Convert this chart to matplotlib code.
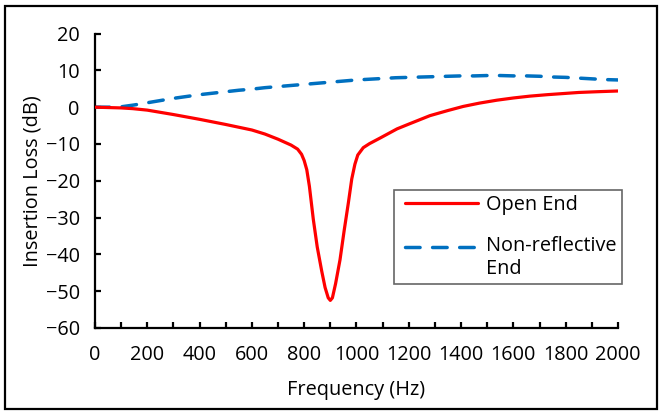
import matplotlib
matplotlib.use("Agg")
import matplotlib.pyplot as plt
import numpy as np
from matplotlib.patches import Rectangle
from matplotlib.ticker import MultipleLocator

# Data
freq_open = [0, 100, 145, 200, 275, 300, 400, 500, 600, 650, 700, 750, 775, 790, 800,
             810, 820, 835, 850, 867, 880, 892, 900, 908, 920, 937, 953, 969, 982,
             994, 1005, 1026, 1050, 1090, 1155, 1200, 1281, 1350, 1408, 1470, 1537,
             1600, 1663, 1730, 1790, 1850, 1920, 2000]
il_open = [0, -0.2, -0.4, -0.8, -1.7, -2.0, -3.3, -4.7, -6.2, -7.3, -8.7, -10.3, -11.4,
           -12.8, -14.5, -17.0, -21.5, -30.5, -38.0, -44.5, -49.0, -51.8, -52.5, -51.8,
           -48.0, -41.5, -33.5, -26.0, -19.5, -15.5, -13.0, -11.0, -9.9, -8.4, -5.9,
           -4.6, -2.3, -0.9, 0.2, 1.1, 1.9, 2.5, 3.0, 3.4, 3.7, 4.0, 4.2, 4.4]

freq_nonref = [0, 50, 100, 150, 200, 250, 300, 350, 400, 450, 500, 550, 600, 650, 700,
               750, 800, 850, 900, 950, 1000, 1050, 1100, 1150, 1200, 1250, 1300, 1350,
               1400, 1450, 1500, 1550, 1600, 1650, 1700, 1750, 1800, 1850, 1900, 1950, 2000]
il_nonref = [0, 0, 0.1, 0.6, 1.2, 1.8, 2.4, 2.9, 3.4, 3.8, 4.2, 4.6, 4.9, 5.3, 5.6,
             5.9, 6.2, 6.5, 6.8, 7.1, 7.4, 7.6, 7.8, 8.0, 8.1, 8.2, 8.3, 8.4,
             8.5, 8.5, 8.6, 8.6, 8.5, 8.5, 8.4, 8.2, 8.1, 7.9, 7.7, 7.5, 7.4]

labels = ["Open End", "Non-reflective\nEnd"]
xlabel = "Frequency (Hz)"
ylabel = "Insertion Loss (dB)"

plt.rcParams['font.family'] = ['Open Sans', 'DejaVu Sans']
FS = 14.3

fig = plt.figure(figsize=(6.6, 4.12), dpi=100)
ax = fig.add_axes([0.1439, 0.2039, 0.7924, 0.7146])

ax.plot(freq_open, il_open, color='#FF0000', lw=2.3, label=labels[0],
        solid_capstyle='round', solid_joinstyle='round', zorder=3)
ax.plot(freq_nonref, il_nonref, color='#0070C0', lw=2.5, label=labels[1],
        dashes=(4.2, 3.6), dash_capstyle='round', zorder=2)

ax.set_xlim(0, 2000)
ax.set_ylim(-60, 20)
ax.xaxis.set_major_locator(MultipleLocator(200))
ax.xaxis.set_minor_locator(MultipleLocator(100))
ax.yaxis.set_major_locator(MultipleLocator(10))

for s in ['top', 'right']:
    ax.spines[s].set_visible(False)
for s in ['left', 'bottom']:
    ax.spines[s].set_linewidth(1.6)
    ax.spines[s].set_color('black')

ax.tick_params(axis='x', which='both', direction='in', length=4, width=1.6,
               labelsize=FS, pad=12)
ax.tick_params(axis='y', which='both', direction='in', length=4, width=1.6,
               labelsize=FS, pad=11)

ax.set_xlabel(xlabel, fontsize=FS, labelpad=11)
ax.set_ylabel(ylabel, fontsize=FS, labelpad=2)

HL = 3.98
leg = ax.legend(loc='upper left', bbox_to_anchor=(0.572, 0.468), fontsize=FS,
                frameon=True, fancybox=False, edgecolor='#404040',
                handlelength=HL, handletextpad=0.4, labelspacing=1.05,
                borderpad=0.25, borderaxespad=0)
leg.get_frame().set_linewidth(1.2)
W = HL * FS
seg = 52.6  # visible handle length in points
for i, h in enumerate(leg.legend_handles):
    h.set_xdata(np.array([W - seg, W]))
    if i == 1:
        # align dashed handle with the first line of its two-line label
        h.set_ydata(np.asarray(h.get_ydata(), dtype=float)[:1].repeat(2) + 0.58 * FS)
    else:
        h.set_ydata(np.asarray(h.get_ydata(), dtype=float)[:1].repeat(2))

fig.patches.append(Rectangle((5 / 660, 3 / 412), 652 / 660, 403 / 412,
                             transform=fig.transFigure, fill=False,
                             edgecolor='black', linewidth=1.6))

fig.savefig("out.png", dpi=100)
